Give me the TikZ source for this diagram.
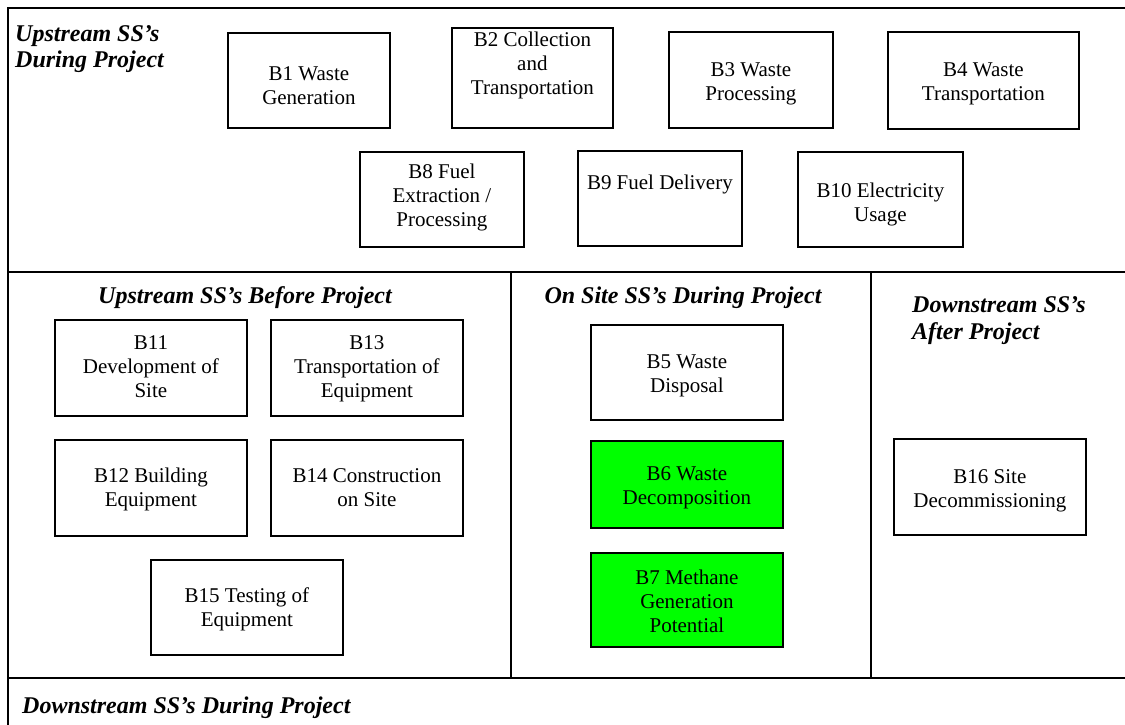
\documentclass[tikz,border=0pt]{standalone}
\usepackage{fontspec}
\setmainfont{Liberation Serif}
\newcommand{\boxtext}[4]{\parbox[c][#2pt][t]{#1pt}{\centering\vspace*{#3pt}\strut #4\par}}
\definecolor{brightgreen}{RGB}{0,255,0}
\begin{document}
\begin{tikzpicture}[x=1pt,y=-1pt,
  frame/.style={line width=1.8pt},
  blk/.style={draw, line width=1.8pt, inner sep=0pt, anchor=north west, font=\fontsize{21}{24}\selectfont},
  grn/.style={blk, fill=brightgreen},
  ttl/.style={inner sep=0pt, font=\fontsize{24}{25}\selectfont\bfseries\itshape}]
\useasboundingbox (0,0) rectangle (1125,725);
% frame
\draw[frame] (1125,8) -- (8,8) -- (8,725);
\draw[frame] (8,272) -- (1125,272);
\draw[frame] (8,678) -- (1125,678);
\draw[frame] (511,272) -- (511,678);
\draw[frame] (871,272) -- (871,678);
% titles
\node[ttl, anchor=base west] (t1) at (15,42) {\parbox[t]{200pt}{\raggedright Upstream SS’s\\During Project}};
\node[ttl, anchor=base] (t2) at (245,303) {Upstream SS’s Before Project};
\node[ttl, anchor=base] (t3) at (683,303) {On Site SS’s During Project};
\node[ttl, anchor=base west, font=\fontsize{24}{27}\selectfont\bfseries\itshape] (t4) at (912,312) {\parbox[t]{210pt}{\raggedright Downstream SS’s\\After Project}};
\node[ttl, anchor=base west] (t5) at (22,713) {Downstream SS’s During Project};
% row 1
\node[blk] (b1) at (227,32) {\boxtext{162}{95}{31}{B1 Waste\\Generation}};
\node[blk] (b2) at (451,27) {\boxtext{161}{100}{2}{B2 Collection\\and\\Transportation}};
\node[blk] (b3) at (668,31) {\boxtext{164}{96}{28}{B3 Waste\\Processing}};
\node[blk] (b4) at (887,31) {\boxtext{191}{97}{28}{B4 Waste\\Transportation}};
% row 2
\node[blk] (b8) at (359,151) {\boxtext{164}{95}{10}{B8 Fuel\\Extraction /\\Processing}};
\node[blk] (b9) at (577,150) {\boxtext{164}{95}{22}{B9 Fuel Delivery}};
\node[blk] (b10) at (797,151) {\boxtext{165}{95}{29}{B10 Electricity\\Usage}};
% before project
\node[blk] (b11) at (54,319) {\boxtext{192}{96}{13}{B11\\Development of\\Site}};
\node[blk] (b13) at (270,319) {\boxtext{192}{96}{13}{B13\\Transportation of\\Equipment}};
\node[blk] (b12) at (54,439) {\boxtext{192}{96}{26}{B12 Building\\Equipment}};
\node[blk] (b14) at (270,439) {\boxtext{192}{96}{26}{B14 Construction\\on Site}};
\node[blk] (b15) at (150,559) {\boxtext{192}{95}{26}{B15 Testing of\\Equipment}};
% on site
\node[blk] (b5) at (590,324) {\boxtext{192}{95}{27}{B5 Waste\\Disposal}};
\node[grn] (b6) at (590,440) {\boxtext{192}{87}{23}{B6 Waste\\Decomposition}};
\node[grn] (b7) at (590,552) {\boxtext{192}{94}{15}{B7 Methane\\Generation\\Potential}};
% after project
\node[blk] (b16) at (893,438) {\boxtext{192}{96}{28}{B16 Site\\Decommissioning}};
\end{tikzpicture}
\end{document}
